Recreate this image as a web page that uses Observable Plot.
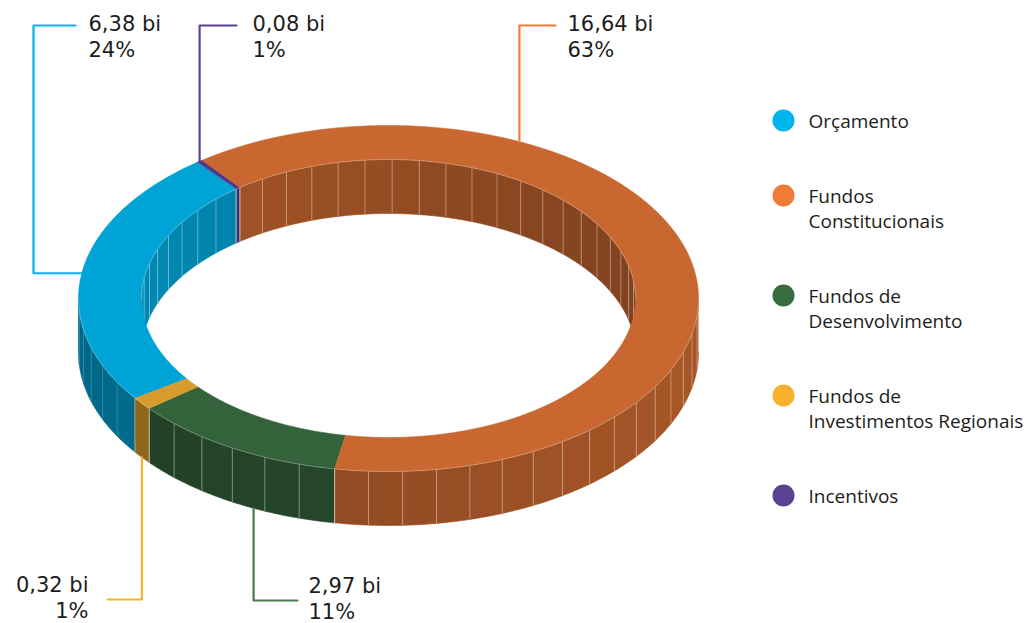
<!DOCTYPE html>
<html>
<head>
<meta charset="utf-8">
<script src="https://cdn.jsdelivr.net/npm/d3@7"></script>
<script src="https://cdn.jsdelivr.net/npm/@observablehq/plot@0.6"></script>
<style>
  html, body { margin: 0; padding: 0; background: #ffffff; }
  #chart { width: 1028px; height: 623px; }
</style>
</head>
<body>
<div id="chart"></div>
<script>
// ---- data (R$ bilhões) ----
const categories = ["Orçamento", "Fundos Constitucionais", "Fundos de Desenvolvimento", "Fundos de Investimentos Regionais", "Incentivos"];
const legendLines = [["Orçamento"], ["Fundos", "Constitucionais"], ["Fundos de", "Desenvolvimento"], ["Fundos de", "Investimentos Regionais"], ["Incentivos"]];
const values = [6.38, 16.64, 2.97, 0.32, 0.08];
const valueLabels = ["6,38 bi", "16,64 bi", "2,97 bi", "0,32 bi", "0,08 bi"];
const percentLabels = ["24%", "63%", "11%", "1%", "1%"];

// ---- styling ----
const faceColors = ["#00a3d6", "#c8672f", "#34623b", "#d99b2b", "#4f3b85"];
const keyColors = ["#00b5ec", "#f07b37", "#376c3f", "#f8b12c", "#5a4293"];
const leaderColors = ["#00b5ec", "#f47b3a", "#4a7a52", "#f8b12c", "#5a4293"];
const wallLineOpacity = [0.12, 0.35, 0.35, 0.35, 0.35];
const ringOrder = [2, 3, 0, 4, 1]; // clockwise order of the slices, starting at ring.start

const W = 1028, H = 623;
const ring = {cx: 388, cy: 298, rxOut: 310, ryOut: 173, rxIn: 247, ryIn: 139, depth: 54, start: 100, facetStep: 6.3};
const rad = Math.PI / 180;
const textColor = "#1d1d1b";
const valueFont = "DejaVu Sans, sans-serif";
const legendFont = "Open Sans, sans-serif";

// point on the rim ellipse (angle in degrees, clockwise on screen), optionally pushed down by dz
function pt(side, a, dz = 0) {
  const rx = side === "out" ? ring.rxOut : ring.rxIn;
  const ry = side === "out" ? ring.ryOut : ring.ryIn;
  return [ring.cx + rx * Math.cos(a * rad), ring.cy + ry * Math.sin(a * rad) + dz];
}
function sweep(a0, a1, step = 0.5) {
  const n = Math.max(1, Math.ceil(Math.abs(a1 - a0) / step));
  return d3.range(n + 1).map(k => a0 + (a1 - a0) * k / n);
}
function clip(a0, a1, lo, hi) {
  const out = [];
  for (let k = -1; k <= 2; k++) {
    const b0 = Math.max(a0, lo + 360 * k), b1 = Math.min(a1, hi + 360 * k);
    if (b1 - b0 > 1e-6) out.push([b0, b1]);
  }
  return out;
}
function shade(color, nx) {
  const c = d3.rgb(color), f = 0.74 + 0.1 * nx;
  return d3.rgb(c.r * f, c.g * f, c.b * f).formatHex();
}

// ---- slices ----
const total = d3.sum(values);
let acc = ring.start;
const slices = ringOrder.map(i => {
  const span = values[i] / total * 360;
  const s = {i, a0: acc, a1: acc + span};
  acc += span;
  return s;
});

const topRows = [], outerRows = [], innerRows = [];
const outerLines = [], innerLines = [];

for (const s of slices) {
  // top face of the ring segment
  const poly = [...sweep(s.a0, s.a1).map(a => pt("out", a)), ...sweep(s.a1, s.a0).map(a => pt("in", a))];
  poly.forEach(([x, y]) => topRows.push({id: "top" + s.i, x, y, color: faceColors[s.i]}));

  // faceted walls: outer front half and inner back half
  const n = Math.max(1, Math.round((s.a1 - s.a0) / ring.facetStep));
  const edges = d3.range(n + 1).map(k => s.a0 + (s.a1 - s.a0) * k / n);
  for (const [side, lo, hi, rows, lines] of [["out", 0, 180, outerRows, outerLines], ["in", 180, 360, innerRows, innerLines]]) {
    for (let k = 0; k < n; k++) {
      for (const [b0, b1] of clip(edges[k], edges[k + 1], lo, hi)) {
        const mid = (b0 + b1) / 2;
        const nx = side === "out" ? Math.cos(mid * rad) : -Math.cos(mid * rad);
        const color = shade(faceColors[s.i], nx);
        const id = `${side}-${s.i}-${k}-${b0.toFixed(2)}`;
        [...sweep(b0, b1).map(a => pt(side, a)), ...sweep(b1, b0).map(a => pt(side, a, ring.depth))]
          .forEach(([x, y]) => rows.push({id, x, y, color}));
      }
    }
    for (const e of edges) {
      for (let k = -1; k <= 2; k++) {
        if (e > lo + 360 * k + 1.5 && e < hi + 360 * k - 1.5) {
          const [x1, y1] = pt(side, e), [x2, y2] = pt(side, e, ring.depth);
          lines.push({x1, y1, x2, y2, o: side === "out" ? wallLineOpacity[s.i] : 0.35});
        }
      }
    }
  }
}

// light rims where the top face meets the walls
const rimRows = [
  ...sweep(0, 180).map(a => { const [x, y] = pt("out", a); return {id: "outer", x, y}; }),
  ...sweep(180, 360).map(a => { const [x, y] = pt("in", a); return {id: "inner", x, y}; })
];

// ---- leader lines and value labels ----
const leaderLayout = [
  {i: 0, frac: 0.5, at: "rim", path: [["x", 33], ["y", 25], ["x", 75]], textX: 88, textAnchor: "start"},
  {i: 4, frac: 0.5, at: "rim", path: [["y", 25], ["x", 236]], textX: 252, textAnchor: "start"},
  {i: 1, frac: 0.273, at: "rim", path: [["y", 25], ["x", 555]], textX: 567, textAnchor: "start"},
  {i: 3, frac: 0.5, at: "foot", path: [["y", 599], ["x", 107]], textX: 88, textAnchor: "end"},
  {i: 2, frac: 0.39, at: "foot", path: [["y", 600], ["x", 297]], textX: 308, textAnchor: "start"}
];
const leaderRows = [], labelRows = [];
for (const L of leaderLayout) {
  const s = slices.find(d => d.i === L.i);
  const a = s.a0 + (s.a1 - s.a0) * L.frac;
  let [x, y] = pt("out", a, L.at === "foot" ? ring.depth : 0);
  leaderRows.push({id: L.i, x, y, color: leaderColors[L.i]});
  for (const [k, v] of L.path) {
    if (k === "x") x = v; else y = v;
    leaderRows.push({id: L.i, x, y, color: leaderColors[L.i]});
  }
  const base = y < ring.cy ? y + 5 : y - 8;
  labelRows.push({x: L.textX, y: base, text: valueLabels[L.i], anchor: L.textAnchor});
  labelRows.push({x: L.textX, y: base + 26, text: percentLabels[L.i], anchor: L.textAnchor});
}

// ---- legend ----
const legendX = 783, legendTextX = 808;
let ly = 120;
const legendDots = [], legendText = [];
categories.forEach((c, i) => {
  legendDots.push({x: legendX, y: ly, color: keyColors[i]});
  legendLines[i].forEach((t, k) => legendText.push({x: legendTextX, y: ly + 7 + k * 25, text: t}));
  ly += legendLines[i].length * 25 + 50;
});

const valueText = anchor => Plot.text(labelRows.filter(d => d.anchor === anchor), {
  x: "x", y: "y", text: "text", textAnchor: anchor, lineAnchor: "bottom",
  fontFamily: valueFont, fontSize: 21, fill: textColor
});

const chart = Plot.plot({
  width: W,
  height: H,
  margin: 0,
  x: {domain: [0, W], range: [0, W], axis: null},
  y: {domain: [0, H], range: [0, H], axis: null},
  color: {type: "identity"},
  style: {background: "#ffffff"},
  marks: [
    Plot.line(innerRows, {x: "x", y: "y", z: "id", fill: "color", stroke: "color", strokeWidth: 0.6}),
    Plot.link(innerLines, {x1: "x1", y1: "y1", x2: "x2", y2: "y2", stroke: "#ffffff", strokeOpacity: "o", strokeWidth: 1}),
    Plot.line(outerRows, {x: "x", y: "y", z: "id", fill: "color", stroke: "color", strokeWidth: 0.6}),
    Plot.link(outerLines, {x1: "x1", y1: "y1", x2: "x2", y2: "y2", stroke: "#ffffff", strokeOpacity: "o", strokeWidth: 1}),
    Plot.line(topRows, {x: "x", y: "y", z: "id", fill: "color", stroke: "color", strokeWidth: 0.6}),
    Plot.line(rimRows, {x: "x", y: "y", z: "id", stroke: "#ffffff", strokeOpacity: 0.35, strokeWidth: 0.8}),
    Plot.line(leaderRows, {x: "x", y: "y", z: "id", stroke: "color", strokeWidth: 2.2}),
    valueText("start"),
    valueText("end"),
    Plot.dot(legendDots, {x: "x", y: "y", r: 11, fill: "color", stroke: null}),
    Plot.text(legendText, {x: "x", y: "y", text: "text", textAnchor: "start", lineAnchor: "bottom",
      fontFamily: legendFont, fontSize: 19, fill: textColor})
  ]
});
document.getElementById("chart").append(chart);
</script>
</body>
</html>
